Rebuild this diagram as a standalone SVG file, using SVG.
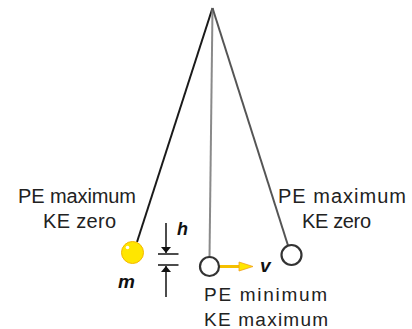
<svg xmlns="http://www.w3.org/2000/svg" width="412" height="329" viewBox="0 0 412 329">
<defs>
<style>
.lbl{font-family:"Liberation Sans",Arial,sans-serif;font-size:20px;fill:#222}
.lbl2{font-family:"Liberation Sans",Arial,sans-serif;font-size:19px;fill:#222}
.sym{font-family:"Liberation Sans",Arial,sans-serif;font-style:italic;font-weight:bold;fill:#111}
.ball{fill:#fff;stroke:#333;stroke-width:2.2}
.dim{stroke:#111;stroke-width:1.5;fill:none}
</style>
<marker id="ah" viewBox="0 0 6 10" refX="6" refY="5" markerWidth="6" markerHeight="10" markerUnits="userSpaceOnUse" orient="auto">
<path d="M0,0 L6,5 L0,10 Z" fill="#111"/>
</marker>
</defs>
<rect width="412" height="329" fill="#fff"/>
<g id="connectors">
<line x1="212.5" y1="8" x2="137" y2="242" stroke="#1a1a1a" stroke-width="2"/>
<line x1="212.5" y1="8" x2="209.5" y2="257" stroke="#8a8a8a" stroke-width="2"/>
<line x1="212.5" y1="8" x2="288" y2="245.5" stroke="#555" stroke-width="2"/>
<line x1="166" y1="223" x2="166" y2="253" class="dim" marker-end="url(#ah)"/>
<line x1="166" y1="297" x2="166" y2="266" class="dim" marker-end="url(#ah)"/>
<line x1="158" y1="254" x2="178.5" y2="254" class="dim"/>
<line x1="158" y1="265" x2="178.5" y2="265" class="dim"/>
<g id="velocity">
<line x1="219" y1="266.5" x2="242" y2="266.5" stroke="#f5c000" stroke-width="3"/>
<path d="M239,262 L253,266.5 L239,271 Z" fill="#ffe600" stroke="#f0a020" stroke-width="0.8"/>
</g>
</g>
<g id="ball-left">
<circle cx="132.5" cy="252.5" r="11" fill="#ffe600" stroke="#f5b800" stroke-width="1"/>
<circle cx="127.5" cy="247.5" r="1.8" fill="#fff"/>
</g>
<g id="ball-middle">
<circle cx="209.5" cy="266.5" r="9.5" class="ball"/>
</g>
<g id="ball-right">
<circle cx="291.5" cy="255" r="10" class="ball"/>
</g>
<g id="label-left">
<text class="lbl" x="18" y="203" textLength="118">PE maximum</text>
<text class="lbl" x="43" y="228" textLength="73">KE zero</text>
</g>
<g id="label-right">
<text class="lbl" x="278" y="203" textLength="128">PE maximum</text>
<text class="lbl" x="302" y="228" textLength="69">KE zero</text>
</g>
<g id="label-bottom">
<text class="lbl2" x="204" y="301" textLength="123">PE minimum</text>
<text class="lbl2" x="204" y="326" textLength="124">KE maximum</text>
</g>
<g id="symbols">
<text class="sym" x="177" y="235" font-size="18">h</text>
<text class="sym" x="118" y="288" font-size="19">m</text>
<text class="sym" x="260" y="272" font-size="19">v</text>
</g>
</svg>
